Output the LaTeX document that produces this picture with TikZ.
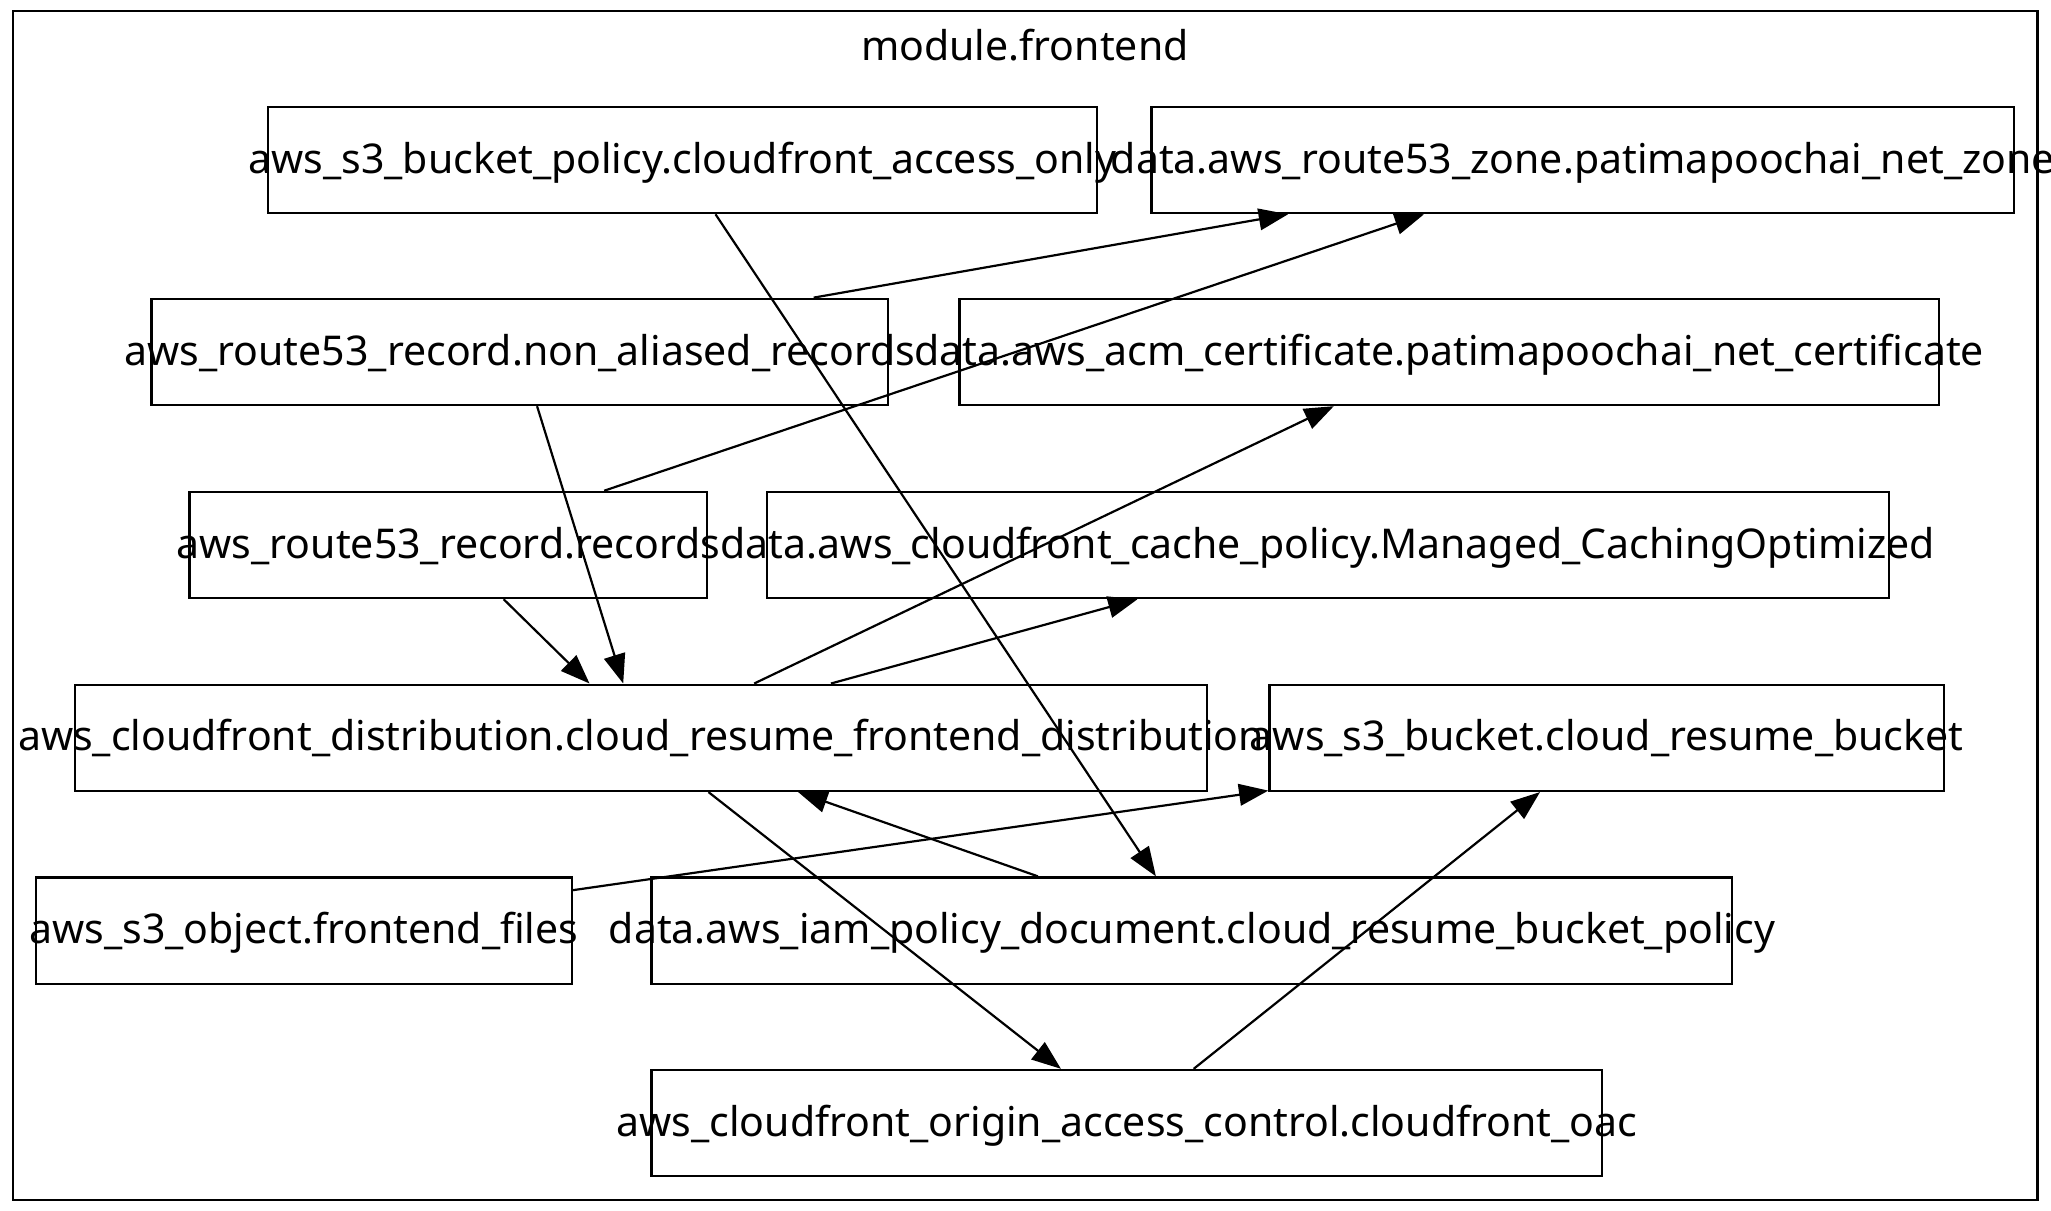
\documentclass[tikz,border=0pt]{standalone}
\usepackage{fontspec}
\setmainfont{Noto Sans}
\usetikzlibrary{arrows.meta}
\tikzset{
  box/.style={draw, rectangle, inner sep=0pt, line width=0.75pt, minimum height=36.3pt},
  lbl/.style={anchor=base, inner sep=0pt, font=\fontsize{14}{17}\selectfont},
  edge/.style={line width=0.75pt, -{Triangle[length=10pt,width=7.4pt]}}
}
\begin{document}
\begin{tikzpicture}
\useasboundingbox (0,0) rectangle (700pt,-413.3pt);
\node[draw, rectangle, line width=0.75pt, inner sep=0pt, minimum width=691.1pt, minimum height=405.65pt] (frame) at (349.85pt,-206.6pt) {};
\node[lbl] (title) at (349.8pt,-20.8pt) {module.frontend};
% boxes
\node[box, minimum width=282.9pt] (A) at (232.9pt,-54.6pt) {};
\node[box, minimum width=294.4pt] (B) at (540.2pt,-54.6pt) {};
\node[box, minimum width=251.4pt] (C) at (177.4pt,-120.1pt) {};
\node[box, minimum width=334.2pt] (D) at (494.6pt,-120.1pt) {};
\node[box, minimum width=176.7pt] (E) at (153.0pt,-186.0pt) {};
\node[box, minimum width=383.0pt] (F) at (453.2pt,-186.0pt) {};
\node[box, minimum width=386.3pt] (G) at (218.8pt,-251.8pt) {};
\node[box, minimum width=230.1pt] (H) at (548.3pt,-251.8pt) {};
\node[box, minimum width=182.9pt] (I) at (103.7pt,-317.6pt) {};
\node[box, minimum width=368.9pt] (J) at (406.8pt,-317.6pt) {};
\node[box, minimum width=324.5pt] (K) at (384.6pt,-383.3pt) {};
% labels
\node[lbl] (At) at ([yshift=-4.5pt]A.center) {aws\_s3\_bucket\_policy.cloudfront\_access\_only};
\node[lbl] (Bt) at ([yshift=-4.5pt]B.center) {data.aws\_route53\_zone.patimapoochai\_net\_zone};
\node[lbl] (Ct) at ([yshift=-4.5pt]C.center) {aws\_route53\_record.non\_aliased\_records};
\node[lbl] (Dt) at ([yshift=-4.5pt]D.center) {data.aws\_acm\_certificate.patimapoochai\_net\_certificate};
\node[lbl] (Et) at ([yshift=-4.5pt]E.center) {aws\_route53\_record.records};
\node[lbl] (Ft) at ([yshift=-4.5pt]F.center) {data.aws\_cloudfront\_cache\_policy.Managed\_CachingOptimized};
\node[lbl] (Gt) at ([yshift=-4.5pt]G.center) {aws\_cloudfront\_distribution.cloud\_resume\_frontend\_distribution};
\node[lbl] (Ht) at ([yshift=-4.5pt]H.center) {aws\_s3\_bucket.cloud\_resume\_bucket};
\node[lbl] (It) at ([yshift=-4.5pt]I.center) {aws\_s3\_object.frontend\_files};
\node[lbl] (Jt) at ([yshift=-4.5pt]J.center) {data.aws\_iam\_policy\_document.cloud\_resume\_bucket\_policy};
\node[lbl] (Kt) at ([yshift=-4.5pt]K.center) {aws\_cloudfront\_origin\_access\_control.cloudfront\_oac};
% edges
\draw[edge] ([xshift=11.3pt]A.south) -- ([xshift=-12.3pt]J.north);
\draw[edge] ([xshift=100.3pt]C.north) -- ([xshift=-100.6pt]B.south);
\draw[edge] ([xshift=53.2pt]E.north) -- ([xshift=-54.2pt]B.south);
\draw[edge] ([xshift=5.9pt]C.south) -- ([xshift=-6.1pt]G.north);
\draw[edge] ([xshift=18.9pt]E.south) -- ([xshift=-17.6pt]G.north);
\draw[edge] ([xshift=38.6pt]G.north) -- ([xshift=-39.4pt]D.south);
\draw[edge] ([xshift=64.8pt]G.north) -- ([xshift=-65.0pt]F.south);
\draw[edge] ([xshift=23.0pt]G.south) -- ([xshift=-22.5pt]K.north);
\draw[edge] ([xshift=-52.6pt]J.north) -- ([xshift=53.6pt]G.south);
\draw[edge] ([yshift=13.8pt]I.east) -- ([yshift=0.5pt]H.south west);
\draw[edge] ([xshift=22.8pt]K.north) -- ([xshift=-22.7pt]H.south);
\end{tikzpicture}
\end{document}
